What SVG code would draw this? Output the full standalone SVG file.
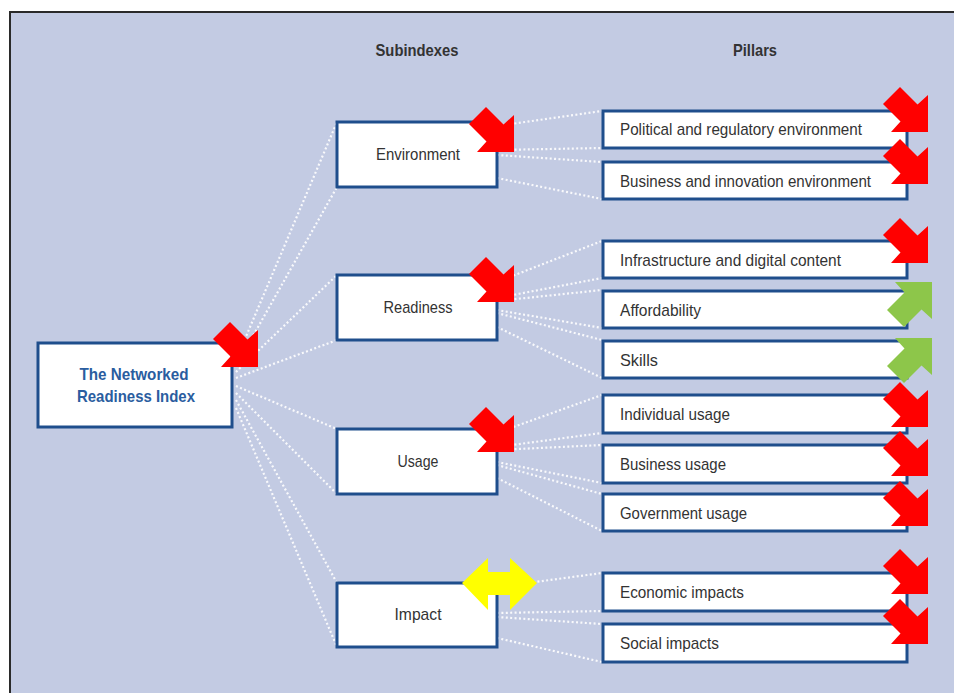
<svg xmlns="http://www.w3.org/2000/svg" width="954" height="693" viewBox="0 0 954 693">
<defs>
<style>
.bg{fill:#C3CBE3;stroke:#2a2a2a;stroke-width:2}
.box{fill:#fff;stroke:#1F4E8C;stroke-width:3}
.t{font-family:"Liberation Sans",Arial,sans-serif;font-size:17px;fill:#333}
.tc{text-anchor:middle}
.h{font-family:"Liberation Sans",Arial,sans-serif;font-size:17px;font-weight:bold;fill:#333;text-anchor:middle}
.main{font-family:"Liberation Sans",Arial,sans-serif;font-size:17px;font-weight:bold;fill:#2A5D9F;text-anchor:middle}
.c line{stroke:#fff;stroke-width:2.2;stroke-dasharray:2 2.4;opacity:0.9}
.red{fill:#FF0000}
.green{fill:#8DC64A}
.yellow{fill:#FFFF00}
</style>
<path id="dn" d="M0,0 L0,-37 L-10.5,-27.5 L-28,-45 L-45,-28 L-27.5,-10.5 L-37,0 Z"/>
<path id="up" d="M0,0 L0,37 L-10.5,27.5 L-28,45 L-45,28 L-27.5,10.5 L-37,0 Z"/>
</defs>
<rect x="0" y="0" width="954" height="693" fill="#fff"/>
<rect class="bg" x="10" y="12" width="960" height="700"/>
<text class="h" x="417" y="56" textLength="83" lengthAdjust="spacingAndGlyphs">Subindexes</text>
<text class="h" x="755" y="56" textLength="44" lengthAdjust="spacingAndGlyphs">Pillars</text>
<g class="c" id="connectors">
<line x1="236" y1="360" x2="337" y2="122"/>
<line x1="236" y1="366" x2="337" y2="187"/>
<line x1="236" y1="372" x2="337" y2="275"/>
<line x1="236" y1="378" x2="337" y2="340"/>
<line x1="236" y1="386" x2="337" y2="429"/>
<line x1="236" y1="393" x2="337" y2="494"/>
<line x1="236" y1="400" x2="337" y2="583"/>
<line x1="236" y1="408" x2="337" y2="647"/>
<line x1="497" y1="126" x2="602" y2="111"/>
<line x1="497" y1="150" x2="602" y2="148"/>
<line x1="497" y1="155" x2="602" y2="162"/>
<line x1="497" y1="178" x2="602" y2="199"/>
<line x1="497" y1="282" x2="602" y2="241"/>
<line x1="497" y1="298" x2="602" y2="278"/>
<line x1="497" y1="301" x2="602" y2="290"/>
<line x1="497" y1="310" x2="602" y2="328"/>
<line x1="497" y1="313" x2="602" y2="340"/>
<line x1="497" y1="327" x2="602" y2="378"/>
<line x1="497" y1="433" x2="602" y2="395"/>
<line x1="497" y1="447" x2="602" y2="433"/>
<line x1="497" y1="450" x2="602" y2="445"/>
<line x1="497" y1="462" x2="602" y2="483"/>
<line x1="497" y1="465" x2="602" y2="494"/>
<line x1="497" y1="478" x2="602" y2="531"/>
<line x1="520" y1="584" x2="602" y2="573"/>
<line x1="497" y1="613" x2="602" y2="611"/>
<line x1="497" y1="617" x2="602" y2="624"/>
<line x1="497" y1="638" x2="602" y2="662"/>
</g>
<g id="nri">
<rect class="box" x="38" y="343" width="194" height="84"/>
<text class="main" x="134" y="380" textLength="109" lengthAdjust="spacingAndGlyphs">The Networked</text>
<text class="main" x="136" y="402" textLength="118" lengthAdjust="spacingAndGlyphs">Readiness Index</text>
</g>
<g id="environment">
<rect class="box" x="337" y="122" width="160" height="65"/>
<text class="t tc" x="418" y="160" textLength="84" lengthAdjust="spacingAndGlyphs">Environment</text>
</g>
<g id="readiness">
<rect class="box" x="337" y="275" width="160" height="65"/>
<text class="t tc" x="418" y="313" textLength="69" lengthAdjust="spacingAndGlyphs">Readiness</text>
</g>
<g id="usage">
<rect class="box" x="337" y="429" width="160" height="65"/>
<text class="t tc" x="418" y="467" textLength="41" lengthAdjust="spacingAndGlyphs">Usage</text>
</g>
<g id="impact">
<rect class="box" x="337" y="583" width="160" height="64"/>
<text class="t tc" x="418" y="620" textLength="47" lengthAdjust="spacingAndGlyphs">Impact</text>
</g>
<g id="p-political">
<rect class="box" x="603" y="111" width="304" height="37"/>
<text class="t" x="620" y="135" textLength="242" lengthAdjust="spacingAndGlyphs">Political and regulatory environment</text>
</g>
<g id="p-business-innov">
<rect class="box" x="603" y="162" width="304" height="37"/>
<text class="t" x="620" y="187" textLength="251" lengthAdjust="spacingAndGlyphs">Business and innovation environment</text>
</g>
<g id="p-infra">
<rect class="box" x="603" y="241" width="304" height="37"/>
<text class="t" x="620" y="266" textLength="221" lengthAdjust="spacingAndGlyphs">Infrastructure and digital content</text>
</g>
<g id="p-afford">
<rect class="box" x="603" y="291" width="304" height="37"/>
<text class="t" x="620" y="316" textLength="81" lengthAdjust="spacingAndGlyphs">Affordability</text>
</g>
<g id="p-skills">
<rect class="box" x="603" y="341" width="304" height="37"/>
<text class="t" x="620" y="366" textLength="38" lengthAdjust="spacingAndGlyphs">Skills</text>
</g>
<g id="p-individual">
<rect class="box" x="603" y="395" width="304" height="38"/>
<text class="t" x="620" y="420" textLength="110" lengthAdjust="spacingAndGlyphs">Individual usage</text>
</g>
<g id="p-business-usage">
<rect class="box" x="603" y="445" width="304" height="38"/>
<text class="t" x="620" y="470" textLength="106" lengthAdjust="spacingAndGlyphs">Business usage</text>
</g>
<g id="p-government">
<rect class="box" x="603" y="494" width="304" height="37"/>
<text class="t" x="620" y="519" textLength="127" lengthAdjust="spacingAndGlyphs">Government usage</text>
</g>
<g id="p-economic">
<rect class="box" x="603" y="573" width="304" height="38"/>
<text class="t" x="620" y="598" textLength="124" lengthAdjust="spacingAndGlyphs">Economic impacts</text>
</g>
<g id="p-social">
<rect class="box" x="603" y="624" width="304" height="38"/>
<text class="t" x="620" y="649" textLength="99" lengthAdjust="spacingAndGlyphs">Social impacts</text>
</g>
<g id="indicators">
<use href="#dn" class="red" x="258" y="367"/>
<use href="#dn" class="red" x="514" y="152"/>
<use href="#dn" class="red" x="514" y="302"/>
<use href="#dn" class="red" x="514" y="452"/>
<use href="#dn" class="red" x="928" y="132"/>
<use href="#dn" class="red" x="928" y="184"/>
<use href="#dn" class="red" x="928" y="263"/>
<use href="#up" class="green" x="932" y="282"/>
<use href="#up" class="green" x="932" y="338"/>
<use href="#dn" class="red" x="928" y="427"/>
<use href="#dn" class="red" x="928" y="476"/>
<use href="#dn" class="red" x="928" y="526"/>
<use href="#dn" class="red" x="928" y="594"/>
<use href="#dn" class="red" x="928" y="644"/>
<path class="yellow" d="M462,583 L488,558 L488,572 L510,572 L510,558 L537,583 L510,610 L510,595 L488,595 L488,610 Z"/>
</g>
</svg>
